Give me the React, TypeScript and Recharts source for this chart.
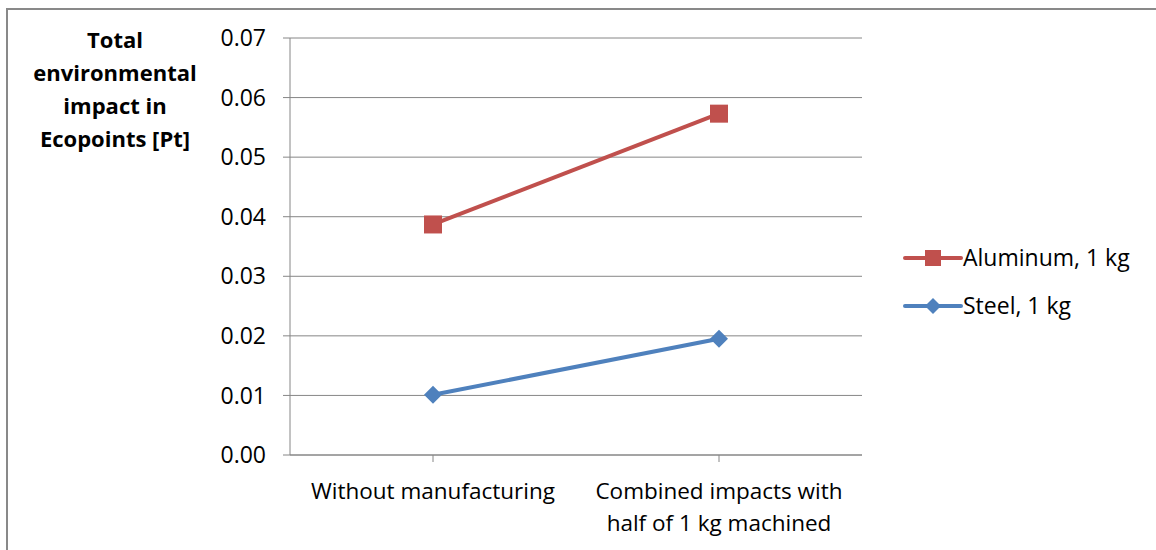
import { CartesianGrid, Line, LineChart, XAxis, YAxis } from "recharts";

const categories = ["Without manufacturing", "Combined impacts with half of 1 kg machined"];
const aluminumValues = [0.0387, 0.0573];
const steelValues = [0.0101, 0.0195];
const yTicks = [0, 0.01, 0.02, 0.03, 0.04, 0.05, 0.06, 0.07];
const yTitleLines = ["Total", "environmental", "impact in", "Ecopoints [Pt]"];

const FONT = "'Open Sans', Lato, sans-serif";
const RED = "#C0504D";
const BLUE = "#4F81BD";
const GRID = "#868686";

const data = categories.map((name, i) => ({
  name,
  aluminum: aluminumValues[i],
  steel: steelValues[i]
}));

// break a label into lines of at most maxChars characters
function wrapLabel(label: string, maxChars: number): string[] {
  const lines: string[] = [];
  let current = "";
  for (const word of label.split(" ")) {
    const next = current ? current + " " + word : word;
    if (next.length > maxChars && current) {
      lines.push(current);
      current = word;
    } else {
      current = next;
    }
  }
  if (current) lines.push(current);
  return lines;
}

function CategoryTick(props: any) {
  const { x, y, payload } = props;
  const lines = wrapLabel(String(payload.value), 22);
  return (
    <text x={x} y={y + 35} textAnchor="middle" fontFamily={FONT} fontSize={22.5} fill="#000">
      {lines.map((line, i) => (
        <tspan key={i} x={x} dy={i === 0 ? 0 : 32}>
          {line}
        </tspan>
      ))}
    </text>
  );
}

function SquareDot(props: any) {
  const { cx, cy } = props;
  if (cx == null || cy == null) return null;
  return <rect x={cx - 9} y={cy - 9} width={18} height={18} fill={RED} />;
}

function DiamondDot(props: any) {
  const { cx, cy } = props;
  if (cx == null || cy == null) return null;
  const r = 9;
  return <path d={`M${cx},${cy - r}L${cx + r},${cy}L${cx},${cy + r}L${cx - r},${cy}Z`} fill={BLUE} />;
}

const legendItems = [
  { label: "Aluminum, 1 kg", color: RED, shape: "square" },
  { label: "Steel, 1 kg", color: BLUE, shape: "diamond" }
];

function ChartLegend() {
  return (
    <svg
      width={250}
      height={80}
      style={{ position: "absolute", left: 903, top: 246, overflow: "visible" }}
    >
      {legendItems.map((item, i) => {
        const cy = 12 + i * 48;
        const cx = 30;
        return (
          <g key={item.label}>
            <line x1={2} x2={58} y1={cy} y2={cy} stroke={item.color} strokeWidth={4} strokeLinecap="round" />
            {item.shape === "square" ? (
              <rect x={cx - 8} y={cy - 8} width={16} height={16} fill={item.color} />
            ) : (
              <path d={`M${cx},${cy - 8}L${cx + 8},${cy}L${cx},${cy + 8}L${cx - 8},${cy}Z`} fill={item.color} />
            )}
            <text x={60} y={cy + 8} fontFamily={FONT} fontSize={23} fill="#000">
              {item.label}
            </text>
          </g>
        );
      })}
    </svg>
  );
}

function YTitle() {
  return (
    <text x={115} y={48} textAnchor="middle" fontFamily={FONT} fontSize={22} fontWeight="bold" fill="#000">
      {yTitleLines.map((line, i) => (
        <tspan key={line} x={115} dy={i === 0 ? 0 : 33}>
          {line}
        </tspan>
      ))}
    </text>
  );
}

export default function App() {
  return (
    <div style={{ position: "absolute", left: 0, top: 0, width: 1156, height: 550, background: "#fff", overflow: "hidden" }}>
      <div
        style={{
          position: "absolute",
          left: 6,
          top: 8,
          width: 1160,
          height: 560,
          borderLeft: "2px solid #898989",
          borderTop: "2px solid #898989"
        }}
      />
      <LineChart
        width={1156}
        height={550}
        data={data}
        margin={{ top: 38, right: 294, bottom: 0, left: 0 }}
        style={{ position: "absolute", left: 0, top: 0 }}
      >
        <CartesianGrid vertical={false} stroke={GRID} strokeWidth={1} />
        <XAxis
          dataKey="name"
          interval={0}
          tick={<CategoryTick />}
          tickSize={7}
          height={95}
          padding={{ left: 143, right: 143 }}
          axisLine={{ stroke: GRID }}
          tickLine={{ stroke: GRID }}
        />
        <YAxis
          width={290}
          domain={[0, 0.07]}
          ticks={yTicks}
          tickFormatter={(v: number) => v.toFixed(2)}
          tick={{ fontFamily: FONT, fontSize: 23, fill: "#000" }}
          tickSize={7}
          tickMargin={17}
          axisLine={{ stroke: GRID }}
          tickLine={{ stroke: GRID }}
          label={{ content: () => <YTitle /> }}
        />
        <Line
          dataKey="aluminum"
          name="Aluminum, 1 kg"
          stroke={RED}
          strokeWidth={4}
          dot={<SquareDot />}
          activeDot={false}
          isAnimationActive={false}
        />
        <Line
          dataKey="steel"
          name="Steel, 1 kg"
          stroke={BLUE}
          strokeWidth={4}
          dot={<DiamondDot />}
          activeDot={false}
          isAnimationActive={false}
        />
      </LineChart>
      <ChartLegend />
    </div>
  );
}
